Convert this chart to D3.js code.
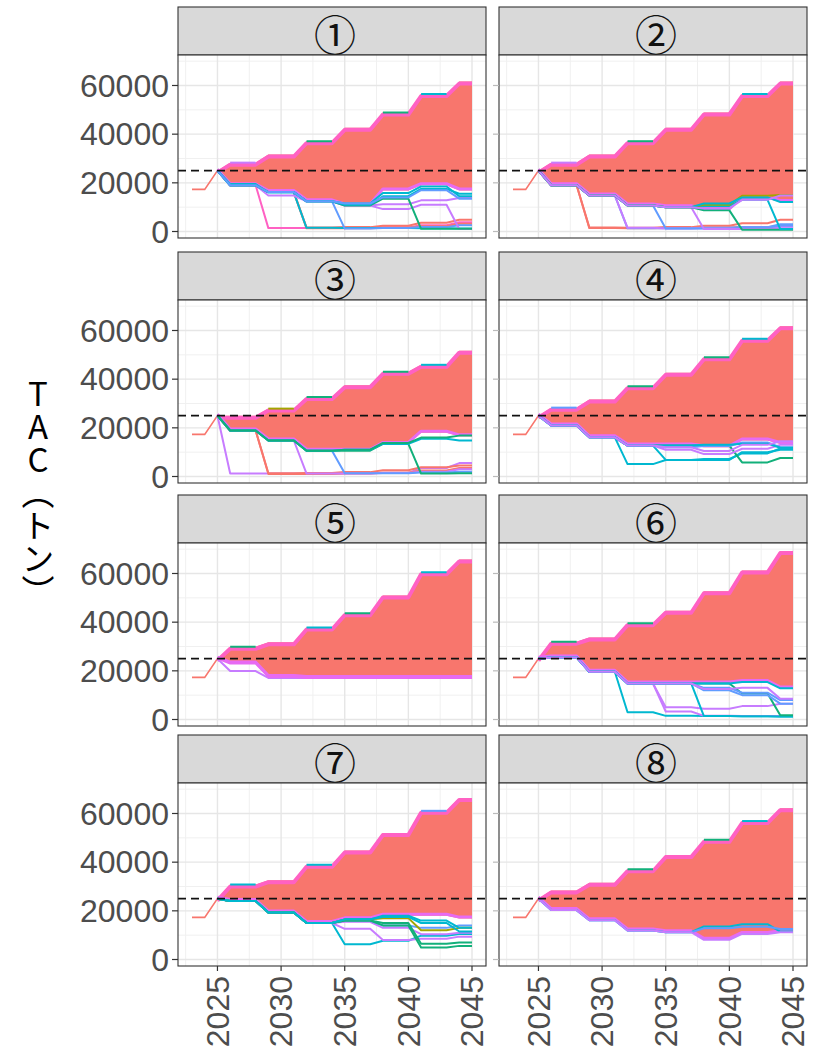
<!DOCTYPE html>
<html><head><meta charset="utf-8">
<script src="https://cdn.jsdelivr.net/npm/d3@7"></script>
<style>body{margin:0;background:#fff}</style>
</head><body>
<svg id="chart" width="831" height="1051"></svg>
<script>
// ---------------- data ----------------
const historyYears = [2023, 2024, 2025];
const historyTAC = [17300, 17300, 25000];
// TAC is revised every three years; each value below holds from its start year
const periodStarts = [2025, 2026, 2029, 2032, 2035, 2038, 2041, 2044];
const lastYear = 2045;
const targetTAC = 25000;
const yTicks = [0, 20000, 40000, 60000];
const yMinor = [10000, 30000, 50000, 70000];
const xTicks = [2025, 2030, 2035, 2040, 2045];
const xMinor = [2022.5, 2027.5, 2032.5, 2037.5, 2042.5];
const panelLabels = ["①", "②", "③", "④", "⑤", "⑥", "⑦", "⑧"];
const yTitle = "TAC（トン）";

// envelope of the bulk of simulated trajectories (per period)
const upper1 = [25000, 28300, 31600, 37100, 42600, 48900, 56500, 61600];
const lower1 = [25000, 19000, 16200, 12400, 10700, 16900, 19000, 16900];
const upper2 = [25000, 28300, 31600, 37100, 42600, 48900, 56500, 61600];
const lower2 = [25000, 19000, 14800, 10700, 10000, 8700, 13500, 12100];
const upper3 = [25000, 25000, 27900, 32700, 37500, 43000, 45900, 51700];
const lower3 = [25000, 18900, 14800, 10600, 10600, 13400, 18000, 16500];
const upper4 = [25000, 28300, 31600, 37100, 42600, 49000, 56600, 61700];
const lower4 = [25000, 21000, 16100, 12700, 12700, 12000, 14800, 13400];
const upper5 = [25000, 29900, 31700, 37800, 43700, 51000, 60500, 65800];
const lower5 = [25000, 23000, 17500, 17100, 17100, 17100, 17100, 17100];
const upper6 = [25000, 32000, 33700, 39600, 44700, 52700, 61200, 69200];
const lower6 = [25000, 25500, 19600, 14800, 14800, 14800, 15400, 12700];
const upper7 = [25000, 30800, 32600, 38900, 44800, 52000, 61100, 66400];
const lower7 = [25000, 24000, 19300, 15000, 16500, 18000, 18000, 16800];
const upper8 = [25000, 28400, 31500, 37100, 42900, 49200, 56900, 62200];
const lower8 = [25000, 20300, 16100, 11900, 11200, 8100, 10500, 11200];

// individual trajectories standing out from the bulk (hue = simulation colour group)
const traj1 = [
  {hue:"pink",   tac:[25000,19000, 1400, 1400, 1500, 1700, 2600, 3800]},
  {hue:"red",    tac:[25000,19000,16200, 1300, 1300, 1500, 2200, 3200]},
  {hue:"red",    tac:[25000,19000,16200, 1600, 1800, 2400, 3600, 4800]},
  {hue:"cyan",   tac:[25000,19500,16000, 1500, 1400, 1400, 1300, 1200]},
  {hue:"blue",   tac:[25000,19000,16200,12400, 1200, 1400, 1800, 2600]},
  {hue:"purple", tac:[25000,19000,16200,12400,10700, 9200,11000, 1000]},
  {hue:"purple", tac:[25000,19000,14800,12400,10700,11200,12800,13800]},
  {hue:"green",  tac:[25000,19000,16200,12400,10700,13500, 1100, 1100]},
  {hue:"cyan",   tac:[25000,19000,16200,12400,11000,14500,17500,15500]},
  {hue:"cyan",   tac:[25000,19000,16200,12400,11500,15800,18500,14500]},
  {hue:"blue",   tac:[25000,19000,16200,12400,11500,14000,17000,13500]},
  {hue:"purple", tac:[null, 28300, null, null, null, null, null, null]},
  {hue:"green",  tac:[null, null, null, 37100, null, 48900, null, null]},
  {hue:"cyan",   tac:[null, null, null, null, null, null, 56500, null]}
];
const traj2 = [
  {hue:"red",    tac:[25000,19000, 1400, 1300, 1400, 1600, 1800, 2500]},
  {hue:"red",    tac:[25000,19000, 1600, 1500, 1800, 2400, 3400, 4800]},
  {hue:"blue",   tac:[25000,19000,14800, 1300, 1300, 1500, 1800, 3000]},
  {hue:"purple", tac:[25000,19000,14800, 1500, 1200, 1300, 1500, 2000]},
  {hue:"blue",   tac:[25000,19000,14800,10700, 1200, 1200, 1500, 2500]},
  {hue:"purple", tac:[25000,19000,14800,10700,10000, 1000, 1000, 1200]},
  {hue:"green",  tac:[25000,19000,14800,10700,10000, 8700,  700,  700]},
  {hue:"cyan",   tac:[25000,19000,14800,10700,10000,10500,13000, 1000]},
  {hue:"olive",  tac:[25000,19000,14800,10700,10000,11000,14700,15000]},
  {hue:"cyan",   tac:[25000,19000,14800,10700,10000,11500,14000,12100]},
  {hue:"purple", tac:[25000,19000,14800,10700,10000, 9500,13000,14800]},
  {hue:"purple", tac:[null, 28300, null, null, null, null, null, null]},
  {hue:"green",  tac:[null, null, null, 37100, null, null, null, null]},
  {hue:"cyan",   tac:[null, null, null, null, null, null, 56500, null]}
];
const traj3 = [
  {hue:"purple", tac:[25000, 1200, 1200, 1200, 1300, 1500, 3500, 5500]},
  {hue:"red",    tac:[25000,18900, 1000, 1000, 1200, 1500, 2500, 3500]},
  {hue:"red",    tac:[25000,18900, 1300, 1400, 1800, 2600, 3800, 4500]},
  {hue:"purple", tac:[25000,18900,14800, 1200, 1200, 1400, 2000, 3000]},
  {hue:"blue",   tac:[25000,18900,14800,10600, 1300, 1300, 1600, 2000]},
  {hue:"green",  tac:[25000,18900,14800,10600,10600,13400, 1200, 1300]},
  {hue:"cyan",   tac:[25000,18900,14800,10600,11000,13400,15500,14800]},
  {hue:"green",  tac:[25000,18900,14800,10600,11000,13800,16000,16800]},
  {hue:"olive",  tac:[null, null, 27900, null, null, null, null, null]},
  {hue:"green",  tac:[null, null, null, 32700, null, 43000, null, null]},
  {hue:"cyan",   tac:[null, null, null, null, null, null, 45900, null]}
];
const traj4 = [
  {hue:"cyan",   tac:[25000,21000,16100, 5100, 6800, 6800,10000,11000]},
  {hue:"cyan",   tac:[25000,21000,16100,12700, 6800, 7200, 9500,11500]},
  {hue:"green",  tac:[25000,21000,16100,12700,12700,12700, 5800, 7600]},
  {hue:"purple", tac:[25000,21000,16100,12700,11000, 9200,11400,13000]},
  {hue:"blue",   tac:[25000,21000,16100,12700,12000,12500,14000,12000]},
  {hue:"cyan",   tac:[25000,21000,16100,12700,12700,13000,13500,11800]},
  {hue:"purple", tac:[25000,21000,16100,12700,12000,10500,13000,14500]},
  {hue:"blue",   tac:[null, 28300, null, null, null, null, null, null]},
  {hue:"green",  tac:[null, null, null, 37100, null, 49000, null, null]},
  {hue:"cyan",   tac:[null, null, null, null, null, null, 56600, null]}
];
const traj5 = [
  {hue:"purple", tac:[25000,19900,17100,17100,17100,17100,17100,17100]},
  {hue:"magenta",tac:[25000,23000,17500,17100,17100,17100,17100,17100]},
  {hue:"green",  tac:[null, 29900, null, null, 43700, null, null, null]},
  {hue:"cyan",   tac:[null, null, null, 37800, null, null, 60500, null]}
];
const traj6 = [
  {hue:"cyan",   tac:[25000,25500,19600, 3000, 1500, 1400, 1300, 1200]},
  {hue:"purple", tac:[25000,25500,19600,14800, 5000, 4400, 5500, 6500]},
  {hue:"purple", tac:[25000,25500,19600,14800, 3300, 1500, 1400, 1400]},
  {hue:"cyan",   tac:[25000,25500,19600,14800,14800, 1400, 1300, 1200]},
  {hue:"green",  tac:[25000,25500,19600,14800,14800,14800,10700, 1700]},
  {hue:"blue",   tac:[25000,25500,19600,14800,14800,13000,11000, 8000]},
  {hue:"blue",   tac:[25000,25500,19600,14800,14800,12000,10000, 6500]},
  {hue:"cyan",   tac:[25000,25500,19600,14800,14800,14800,15400,12800]},
  {hue:"purple", tac:[25000,25500,19600,14800,14800,12500,13000, 8500]},
  {hue:"green",  tac:[null, 32000, null, 39600, null, null, null, null]}
];
const traj7 = [
  {hue:"cyan",   tac:[25000,24000,19300,15000, 6300, 7700, 9800,10500]},
  {hue:"purple", tac:[25000,24000,19300,15000,12600, 8000, 8500, 9400]},
  {hue:"purple", tac:[25000,24000,19300,15000,15500,13000,10400,11000]},
  {hue:"blue",   tac:[25000,24000,19300,15000,16000,14000,13000,14000]},
  {hue:"green",  tac:[25000,24000,19300,15000,16000,14000, 4900, 5600]},
  {hue:"green",  tac:[25000,24000,19300,15000,16000,15000, 6500, 7000]},
  {hue:"olive",  tac:[25000,24000,19300,15000,16500,17000,12000,13000]},
  {hue:"cyan",   tac:[25000,24000,19300,15000,16500,18000,16000,13000]},
  {hue:"cyan",   tac:[25000,24000,19300,15000,16500,17500,15000,11500]},
  {hue:"cyan",   tac:[null, 30800, null, 38900, null, null, null, null]},
  {hue:"blue",   tac:[null, null, null, null, null, null, 61100, null]}
];
const traj8 = [
  {hue:"cyan",   tac:[25000,20300,16100,11900,11200,13600,14500,11500]},
  {hue:"blue",   tac:[25000,20300,16100,11900,11200,12800,13500,12500]},
  {hue:"purple", tac:[25000,20300,16100,11900,11200, 8100,10500,11200]},
  {hue:"green",  tac:[null, null, null, 37100, null, 49200, null, null]},
  {hue:"cyan",   tac:[null, null, null, null, null, null, 56900, null]}
];

const uppers = [upper1, upper2, upper3, upper4, upper5, upper6, upper7, upper8];
const lowers = [lower1, lower2, lower3, lower4, lower5, lower6, lower7, lower8];
const trajs = [traj1, traj2, traj3, traj4, traj5, traj6, traj7, traj8];

// ---------------- layout / style ----------------
const hueNames = ["red", "olive", "green", "cyan", "blue", "purple", "magenta", "pink"];
const hueColours = ["#F8766D", "#A3A500", "#12B07A", "#00B8D0", "#619CFF", "#C77CFF", "#E76BF3", "#FF61C3"];
const colour = d3.scaleOrdinal(hueNames, hueColours);

const colX = [178, 499];
const rowY = [7, 252, 495, 735];
const stripH = 48, plotW = 308, plotH = 183;
const tickFont = "'Liberation Sans', Arial, Helvetica, sans-serif";
const cjkFont = "'Noto Sans CJK JP', 'Noto Sans', sans-serif";

const x = d3.scaleLinear().domain([2021.9, 2046.1]).range([0, plotW]);
const y = d3.scaleLinear().domain([-2670, 72530]).range([plotH, 0]);

function expand(vals) {
  const pts = [];
  vals.forEach((v, i) => {
    const s = periodStarts[i];
    const e = i < periodStarts.length - 1 ? periodStarts[i + 1] - 1 : lastYear;
    pts.push({year: s, v: v});
    if (e > s) pts.push({year: e, v: v});
  });
  return pts;
}

const svg = d3.select("#chart");
svg.append("rect").attr("width", 831).attr("height", 1051).attr("fill", "#fff");

const line = d3.line().defined(d => d.v != null).x(d => x(d.year)).y(d => y(d.v));
const area = d3.area().x(d => x(d.year)).y0(d => y(d.lo)).y1(d => y(d.hi));

panelLabels.forEach((lab, i) => {
  const col = i % 2, row = Math.floor(i / 2);
  const gx = colX[col], gy = rowY[row];
  const g = svg.append("g").attr("transform", `translate(${gx},${gy})`);

  // strip
  g.append("rect").attr("x", 0).attr("y", 0).attr("width", plotW).attr("height", stripH)
    .attr("fill", "#D9D9D9").attr("stroke", "#333").attr("stroke-width", 1.1);
  g.append("text").attr("x", plotW / 2 + 3).attr("y", stripH / 2 + 1)
    .attr("text-anchor", "middle").attr("dominant-baseline", "central")
    .attr("font-family", cjkFont).attr("font-size", 42)
    .attr("fill", "#111").text(lab);

  const p = g.append("g").attr("transform", `translate(0,${stripH})`);
  p.append("rect").attr("width", plotW).attr("height", plotH).attr("fill", "#fff");

  // grid
  p.selectAll(".gxm").data(xMinor).join("line")
    .attr("x1", d => x(d)).attr("x2", d => x(d)).attr("y1", 0).attr("y2", plotH)
    .attr("stroke", "#F0F0F0").attr("stroke-width", 1);
  p.selectAll(".gym").data(yMinor).join("line")
    .attr("y1", d => y(d)).attr("y2", d => y(d)).attr("x1", 0).attr("x2", plotW)
    .attr("stroke", "#F0F0F0").attr("stroke-width", 1);
  p.selectAll(".gx").data(xTicks).join("line")
    .attr("x1", d => x(d)).attr("x2", d => x(d)).attr("y1", 0).attr("y2", plotH)
    .attr("stroke", "#E6E6E6").attr("stroke-width", 1.4);
  p.selectAll(".gy").data(yTicks).join("line")
    .attr("y1", d => y(d)).attr("y2", d => y(d)).attr("x1", 0).attr("x2", plotW)
    .attr("stroke", "#E6E6E6").attr("stroke-width", 1.4);

  const marks = p.append("g");

  // history
  marks.append("path")
    .attr("d", line(historyYears.map((yr, k) => ({year: yr, v: historyTAC[k]}))))
    .attr("fill", "none").attr("stroke", colour("red")).attr("stroke-width", 1.6);

  // fan of trajectories
  const up = expand(uppers[i]), lo = expand(lowers[i]);
  const band = up.map((d, k) => ({year: d.year, hi: d.v, lo: lo[k].v}));
  marks.append("path").attr("d", area(band)).attr("fill", colour("red"));
  marks.append("path").attr("d", line(up)).attr("fill", "none")
    .attr("stroke", colour("pink")).attr("stroke-width", 4)
    .attr("stroke-linejoin", "round").attr("transform", "translate(0,2)");
  marks.append("path").attr("d", line(lo)).attr("fill", "none")
    .attr("stroke", colour("magenta")).attr("stroke-width", 3)
    .attr("stroke-linejoin", "round").attr("transform", "translate(0,-1.5)");

  trajs[i].forEach(t => {
    marks.append("path").attr("d", line(expand(t.tac))).attr("fill", "none")
      .attr("stroke", colour(t.hue)).attr("stroke-width", 2)
      .attr("stroke-linejoin", "round");
  });

  // target line
  p.append("line").attr("x1", 0).attr("x2", plotW)
    .attr("y1", y(targetTAC)).attr("y2", y(targetTAC))
    .attr("stroke", "#111").attr("stroke-width", 1.8).attr("stroke-dasharray", "8,5");

  // border
  p.append("rect").attr("width", plotW).attr("height", plotH)
    .attr("fill", "none").attr("stroke", "#333").attr("stroke-width", 1.1);

  // y ticks
  p.selectAll(".yt").data(yTicks).join("line")
    .attr("x1", -6).attr("x2", 0).attr("y1", d => y(d)).attr("y2", d => y(d))
    .attr("stroke", col === 0 ? "#333" : "#BBB").attr("stroke-width", 1.2);
  if (col === 0) {
    p.selectAll(".yl").data(yTicks).join("text")
      .attr("x", -9).attr("y", d => y(d)).attr("dy", "0.35em")
      .attr("text-anchor", "end").attr("font-family", tickFont).attr("font-size", 32)
      .attr("fill", "#4D4D4D").text(d => d);
  }
  // x ticks (bottom row only)
  if (row === 3) {
    p.selectAll(".xt").data(xTicks).join("line")
      .attr("x1", d => x(d)).attr("x2", d => x(d)).attr("y1", plotH).attr("y2", plotH + 5)
      .attr("stroke", "#333").attr("stroke-width", 1.2);
    p.selectAll(".xl").data(xTicks).join("text")
      .attr("transform", d => `translate(${x(d)},${plotH + 10}) rotate(-90)`)
      .attr("dy", "0.35em").attr("text-anchor", "end")
      .attr("font-family", tickFont).attr("font-size", 32).attr("fill", "#4D4D4D").text(d => d);
  }
});

// y-axis title in vertical writing
svg.append("text").attr("x", 38).attr("y", 492)
  .attr("text-anchor", "middle")
  .style("writing-mode", "vertical-rl").style("text-orientation", "upright")
  .attr("font-family", cjkFont).attr("font-size", 33).attr("fill", "#000").text(yTitle);
</script>
</body></html>
